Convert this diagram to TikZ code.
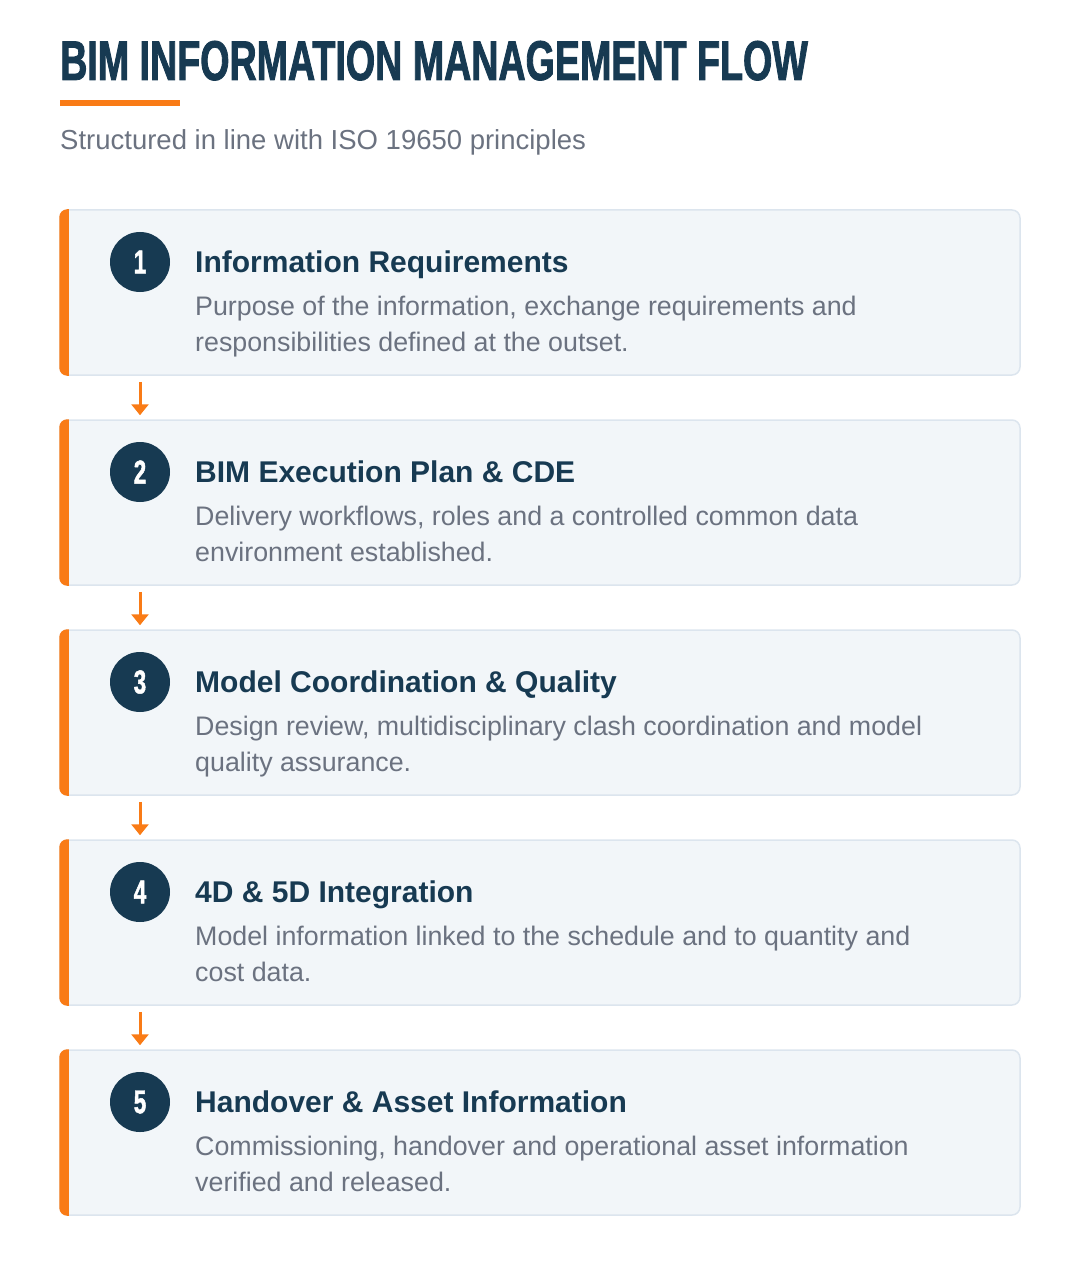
\documentclass[tikz,border=0pt]{standalone}
\usepackage{fontspec}
\setmainfont{Liberation Sans}
\newfontfamily\condfont[FakeStretch=0.672,FakeBold=1.5]{Liberation Sans}
\usetikzlibrary{arrows.meta}
\definecolor{navy}{HTML}{173A52}
\definecolor{accent}{HTML}{F97B16}
\definecolor{cardfill}{HTML}{F2F6F9}
\definecolor{cardline}{HTML}{DCE5EE}
\definecolor{desc}{HTML}{6B7280}
\tikzset{
  cardbox/.style={draw=cardline, line width=1.5pt, fill=cardfill, rounded corners=8pt,
    minimum width=960pt, minimum height=165pt, inner sep=0pt},
  numdot/.style={circle, fill=navy, minimum size=60pt, inner sep=0pt, text=white,
    font=\condfont\bfseries\fontsize{33}{33}\selectfont},
  headtext/.style={anchor=base west, inner sep=0pt, text=navy,
    font=\bfseries\fontsize{30}{36}\selectfont},
  desctext/.style={anchor=base west, inner sep=0pt, align=left, text=desc,
    font=\fontsize{26.8}{36}\selectfont},
  flowarrow/.style={draw=accent, line width=3pt, -{Triangle[width=17pt,length=11pt]},
    shorten <=6pt, shorten >=4pt},
}
\newcommand\bimcard[5]{%
  \node[cardbox] (card#1) at (540,#2+82.5) {};
  \begin{scope}
    \clip[rounded corners=8pt] (card#1.south west) rectangle (card#1.north east);
    \fill[accent] (card#1.south west) rectangle ([xshift=10pt]card#1.north west);
  \end{scope}
  \node[numdot] (num#1) at (140,#2+52) {#1};
  \node[headtext] (head#1) at (195,#2+62) {#3};
  \node[desctext] (desc#1) at (195,#2+141) {#4\\#5};
}
\begin{document}
\begin{tikzpicture}[x=1pt,y=-1pt]
\useasboundingbox (0,0) rectangle (1080,1265);
\node[anchor=base west, inner sep=0pt, text=navy,
  font=\condfont\bfseries\fontsize{56}{56}\selectfont] (title) at (60,80) {BIM INFORMATION MANAGEMENT FLOW};
\fill[accent] (60,100) rectangle (180,106);
\node[anchor=base west, inner sep=0pt, text=desc,
  font=\fontsize{27.5}{30}\selectfont] (subtitle) at (60,150) {Structured in line with ISO 19650 principles};

\bimcard{1}{210}{Information Requirements}{Purpose of the information, exchange requirements and}{responsibilities defined at the outset.}
\bimcard{2}{420}{BIM Execution Plan \& CDE}{Delivery workflows, roles and a controlled common data}{environment established.}
\bimcard{3}{630}{Model Coordination \& Quality}{Design review, multidisciplinary clash coordination and model}{quality assurance.}
\bimcard{4}{840}{4D \& 5D Integration}{Model information linked to the schedule and to quantity and}{cost data.}
\bimcard{5}{1050}{Handover \& Asset Information}{Commissioning, handover and operational asset information}{verified and released.}

\draw[flowarrow] (card1.south -| num1.center) -- (card2.north -| num1.center);
\draw[flowarrow] (card2.south -| num2.center) -- (card3.north -| num2.center);
\draw[flowarrow] (card3.south -| num3.center) -- (card4.north -| num3.center);
\draw[flowarrow] (card4.south -| num4.center) -- (card5.north -| num4.center);
\end{tikzpicture}
\end{document}
